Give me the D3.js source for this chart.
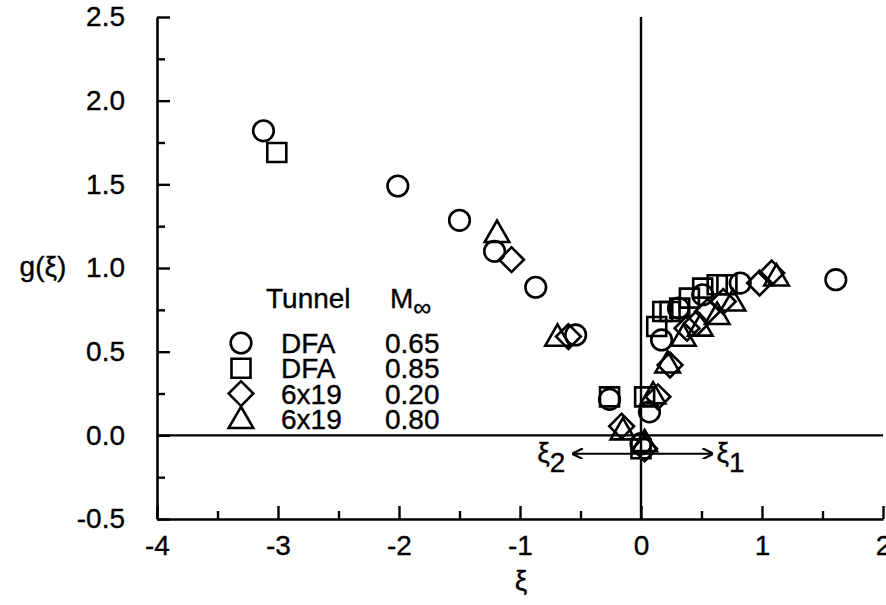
<!DOCTYPE html>
<html><head><meta charset="utf-8">
<script src="https://cdn.jsdelivr.net/npm/d3@7"></script>
<style>body{margin:0;background:#fff}svg{display:block}text{font-family:"Liberation Sans",Arial,Helvetica,sans-serif;fill:#000;stroke:#000;stroke-width:0.35px}</style>
</head><body>
<svg id="c" width="886" height="605"></svg>
<script>
// Data
const dfa065X = [-3.12,-2.01,-1.50,-1.21,-0.87,-0.54,-0.26,0.07,0.00,0.17,0.31,0.51,0.82,1.61];
const dfa065Y = [1.82,1.49,1.285,1.10,0.885,0.60,0.215,0.14,-0.05,0.57,0.76,0.84,0.91,0.93];
const dfa085X = [-3.01,-0.26,0.03,0.00,0.13,0.18,0.24,0.32,0.40,0.51,0.63,0.71];
const dfa085Y = [1.69,0.23,0.23,-0.08,0.65,0.74,0.74,0.76,0.82,0.88,0.90,0.90];
const t020X = [-1.07,-0.60,-0.16,0.03,0.14,0.24,0.38,0.46,0.55,0.68,0.98,1.08];
const t020Y = [1.05,0.59,0.055,-0.08,0.23,0.42,0.64,0.67,0.74,0.80,0.91,0.97];
const t080X = [-1.19,-0.69,-0.15,0.03,0.10,0.22,0.35,0.49,0.63,0.76,1.12];
const t080Y = [1.21,0.59,0.03,-0.04,0.245,0.43,0.59,0.65,0.72,0.80,0.95];
const seriesTunnel = ["DFA","DFA","6x19","6x19"];
const seriesMach = ["0.65","0.85","0.20","0.80"];
const seriesShape = ["circle","square","diamond","triangle"];
const xTicks = [-4,-3,-2,-1,0,1,2];
const yTicks = [-0.5,0.0,0.5,1.0,1.5,2.0,2.5];

const svg = d3.select("#c");
const x = d3.scaleLinear().domain([-4,2]).range([157,883]);
const y = d3.scaleLinear().domain([-0.5,2.5]).range([519,17]);
const FS = 28;
const hy = s => s.replace("\u2212","-");

// frame axes
const gx = svg.append("g").attr("transform","translate(0,519)");
gx.call(d3.axisBottom(x).tickValues(xTicks).tickSizeInner(-13).tickSizeOuter(0).tickFormat(d => hy(d3.format("d")(d))).tickPadding(19));
const gxm = svg.append("g").attr("transform","translate(0,519)");
gxm.call(d3.axisBottom(x).tickValues(d3.range(-3.5,2,1)).tickSizeInner(-8).tickSizeOuter(0).tickFormat(""));
const gy = svg.append("g").attr("transform","translate(157,0)");
gy.call(d3.axisLeft(y).tickValues(yTicks).tickSizeInner(-13).tickSizeOuter(0).tickFormat(d => hy(d3.format(".1f")(d))).tickPadding(32));
const gym = svg.append("g").attr("transform","translate(157,0)");
gym.call(d3.axisLeft(y).tickValues(d3.range(-0.25,2.5,0.5)).tickSizeInner(-8).tickSizeOuter(0).tickFormat(""));
svg.selectAll(".domain").attr("stroke","#000").attr("stroke-width",2.6);
svg.selectAll(".tick line").attr("stroke","#000").attr("stroke-width",2.4);
svg.selectAll(".tick text").attr("font-size",FS).attr("font-family",'"Liberation Sans",Arial,sans-serif').attr("fill","#000");
gx.selectAll(".tick text").attr("dy","0.6em");
gxm.select(".domain").remove(); gym.select(".domain").remove();

// zero lines
svg.append("line").attr("x1",x(-4)).attr("x2",x(2)).attr("y1",y(0)).attr("y2",y(0)).attr("stroke","#000").attr("stroke-width",2.4);
svg.append("line").attr("x1",x(0)).attr("x2",x(0)).attr("y1",y(2.5)).attr("y2",y(-0.5)).attr("stroke","#000").attr("stroke-width",2.4);

// axis titles
svg.append("text").attr("x",43).attr("y",y(1.0)+8).attr("text-anchor","middle").attr("font-size",FS).text("g(ξ)");
svg.append("text").attr("x",x(-1)+1).attr("y",590).attr("text-anchor","middle").attr("font-size",FS).text("ξ");

// symbols
const sym = {
  circle: d3.symbol().type(d3.symbolCircle).size(Math.PI*10.3*10.3),
  square: d3.symbol().type(d3.symbolSquare).size(19*19),
  diamond: d3.symbol().type(d3.symbolSquare).size(17.5*17.5),
  triangle: d3.symbol().type(d3.symbolTriangle).size(260)
};
function drawSym(g, shape, cx, cy){
  const p = g.append("path").attr("d", sym[shape]()).attr("fill","none").attr("stroke","#000").attr("stroke-width",2.6);
  if(shape==="diamond") p.attr("transform",`translate(${cx},${cy}) rotate(45)`);
  else if(shape==="triangle") p.attr("transform",`translate(${cx},${cy+2})`);
  else p.attr("transform",`translate(${cx},${cy})`);
}
const data = [[dfa065X,dfa065Y,"circle"],[dfa085X,dfa085Y,"square"],[t020X,t020Y,"diamond"],[t080X,t080Y,"triangle"]];
const pts = svg.append("g");
data.forEach(([xs,ys,shape])=>{ xs.forEach((v,i)=>drawSym(pts,shape,x(v),y(ys[i]))); });

// legend
const lg = svg.append("g");
lg.append("text").attr("x",266).attr("y",308).attr("font-size",FS).text("Tunnel");
const mt = lg.append("text").attr("x",390).attr("y",308).attr("font-size",FS);
mt.append("tspan").text("M");
mt.append("tspan").attr("dy",8).attr("font-size",FS*0.9).text("∞");
seriesTunnel.forEach((t,i)=>{
  const cy = 343 + i*25.3;
  drawSym(lg, seriesShape[i], 241, cy);
  lg.append("text").attr("x",281).attr("y",cy+10).attr("font-size",FS).text(t);
  lg.append("text").attr("x",385).attr("y",cy+10).attr("font-size",FS).text(seriesMach[i]);
});

// xi arrows
const ay = y(-0.11);
svg.append("defs").append("marker").attr("id","ah").attr("viewBox","0 0 10 10").attr("refX",9).attr("refY",5)
  .attr("markerWidth",11).attr("markerHeight",11).attr("markerUnits","userSpaceOnUse").attr("orient","auto-start-reverse")
  .append("path").attr("d","M0,0 L10,5 L0,10").attr("fill","none").attr("stroke","#000").attr("stroke-width",2);
svg.append("line").attr("x1",x(-0.56)).attr("x2",x(0.59)).attr("y1",ay).attr("y2",ay).attr("stroke","#000").attr("stroke-width",2.2)
  .attr("marker-start","url(#ah)").attr("marker-end","url(#ah)");
const t2 = svg.append("text").attr("x",x(-0.56)-36).attr("y",ay+8).attr("font-size",FS);
t2.append("tspan").text("ξ"); t2.append("tspan").attr("dy",10).text("2");
const t1 = svg.append("text").attr("x",x(0.59)+4).attr("y",ay+8).attr("font-size",FS);
t1.append("tspan").text("ξ"); t1.append("tspan").attr("dy",10).text("1");
</script>
</body></html>
